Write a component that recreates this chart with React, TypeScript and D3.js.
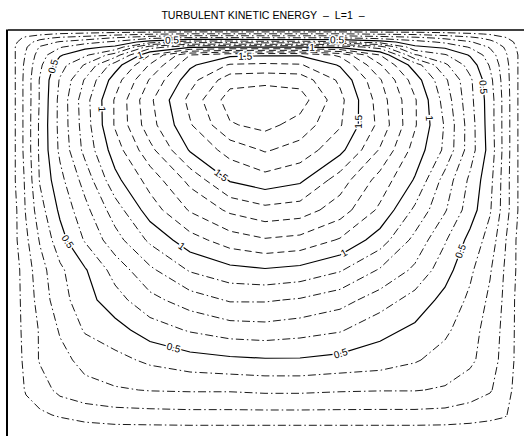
import React from 'react';
import * as d3 from 'd3';

const W = 524;
const H = 436;
const TITLE = 'TURBULENT KINETIC ENERGY\u00A0\u00A0\u2013\u00A0\u00A0L=1\u00A0\u00A0\u2013';

// grid node positions (fraction of cavity width / height)
const gridX = [0, 0.0154, 0.0347, 0.0617, 0.1002, 0.1484, 0.2062, 0.2736, 0.3507, 0.4277, 0.4952,
  0.5626, 0.6397, 0.7168, 0.7842, 0.842, 0.8902, 0.9287, 0.9576, 0.9807, 1];
const gridY = [0, 0.0098, 0.0195, 0.0293, 0.0415, 0.061, 0.0854, 0.122, 0.1707, 0.2317, 0.2927,
  0.3659, 0.439, 0.5122, 0.5854, 0.6585, 0.7317, 0.8049, 0.878, 0.939, 1];

// turbulent kinetic energy at the grid nodes (rows from the lid downward)
const kGrid = [
  [0, 0, 0, 0, 0, 0, 0, 0, 0, 0, 0, 0, 0, 0, 0, 0, 0, 0, 0, 0, 0],
  [0, .04, .06, .08, .11, .13, .16, .19, .21, .21, .21, .21, .21, .19, .18, .15, .12, .09, .06, .03, 0],
  [0, .07, .12, .17, .22, .25, .31, .38, .42, .42, .41, .41, .41, .37, .33, .28, .23, .17, .11, .06, 0],
  [0, .09, .16, .24, .31, .36, .42, .55, .66, .66, .64, .65, .62, .55, .44, .38, .31, .23, .15, .08, 0],
  [0, .11, .19, .31, .39, .47, .52, .85, .98, .99, .99, .99, .97, .85, .52, .48, .39, .29, .19, .09, 0],
  [0, .11, .21, .35, .49, .58, .75, 1.1, 1.4, 1.48, 1.49, 1.49, 1.38, 1.1, .71, .61, .49, .35, .22, .11, 0],
  [0, .11, .23, .38, .56, .71, .95, 1.21, 1.48, 1.61, 1.62, 1.61, 1.49, 1.21, .95, .72, .56, .39, .24, .11, 0],
  [0, .11, .24, .41, .61, .81, 1.05, 1.31, 1.56, 1.76, 1.77, 1.76, 1.58, 1.31, 1.05, .82, .62, .43, .25, .11, 0],
  [0, .11, .24, .41, .63, .86, 1.11, 1.38, 1.63, 1.85, 1.88, 1.85, 1.63, 1.35, 1.11, .86, .63, .45, .26, .11, 0],
  [0, .11, .24, .42, .63, .85, 1.11, 1.36, 1.59, 1.79, 1.83, 1.76, 1.61, 1.37, 1.11, .89, .65, .45, .26, .11, 0],
  [0, .11, .24, .42, .62, .83, 1.05, 1.27, 1.51, 1.64, 1.71, 1.66, 1.53, 1.29, 1.06, .88, .65, .46, .26, .11, 0],
  [0, .11, .22, .41, .57, .74, .97, 1.14, 1.33, 1.51, 1.56, 1.52, 1.35, 1.16, .99, .76, .58, .43, .25, .11, 0],
  [0, .09, .21, .36, .52, .67, .85, 1.05, 1.21, 1.32, 1.37, 1.35, 1.25, 1.08, .88, .71, .55, .41, .25, .11, 0],
  [0, .09, .18, .31, .46, .61, .76, .92, 1.06, 1.15, 1.19, 1.17, 1.09, .95, .77, .61, .47, .36, .21, .09, 0],
  [0, .07, .15, .26, .38, .49, .64, .78, .91, .97, .99, .97, .91, .79, .68, .54, .42, .31, .19, .09, 0],
  [0, .07, .14, .24, .36, .46, .56, .67, .75, .81, .81, .79, .74, .65, .56, .47, .38, .28, .18, .08, 0],
  [0, .07, .13, .21, .31, .41, .46, .55, .61, .65, .66, .64, .61, .53, .48, .42, .34, .26, .17, .08, 0],
  [0, .07, .12, .21, .27, .33, .37, .42, .46, .48, .49, .49, .47, .45, .41, .36, .32, .25, .16, .08, 0],
  [0, .05, .11, .15, .23, .27, .29, .305, .31, .31, .32, .32, .31, .305, .305, .29, .25, .21, .14, .07, 0],
  [0, .04, .06, .085, .11, .14, .16, .165, .17, .17, .17, .17, .17, .17, .17, .165, .15, .13, .11, .05, 0],
  [0, 0, 0, 0, 0, 0, 0, 0, 0, 0, 0, 0, 0, 0, 0, 0, 0, 0, 0, 0, 0],
];

const levels = [0.1, 0.2, 0.3, 0.4, 0.5, 0.6, 0.7, 0.8, 0.9, 1.0, 1.1, 1.2, 1.3, 1.4, 1.5, 1.6, 1.7, 1.8];
const solidLevels = [0.5, 1.0, 1.5];

// contour labels: level and approximate position (fractions of the cavity)
const labelLevel = [0.5, 0.5, 0.5, 0.5, 0.5, 0.5, 0.5, 0.5, 1, 1, 1, 1, 1, 1, 1.5, 1.5, 1.5];
const labelText = ['0.5', '0.5', '0.5', '0.5', '0.5', '0.5', '0.5', '0.5', '1', '1', '1', '1', '1', '1', '1.5', '1.5', '1.5'];
const labelX = [0.316, 0.634, 0.091, 0.11, 0.318, 0.64, 0.875, 0.919, 0.254, 0.586, 0.177, 0.335, 0.645, 0.817, 0.457, 0.408, 0.684];
const labelY = [0.024, 0.024, 0.09, 0.52, 0.78, 0.785, 0.541, 0.139, 0.0585, 0.044, 0.193, 0.527, 0.539, 0.215, 0.061, 0.359, 0.224];

const FONT = "'Liberation Sans', Arial, Helvetica, sans-serif";

export default function App() {
  const n = gridX.length;
  const m = gridY.length;
  const xScale = d3.scaleLinear().domain([0, 1]).range([8, 527]);
  const yScale = d3.scaleLinear().domain([0, 1]).range([30, 440]);
  const ix = d3.scaleLinear().domain(d3.range(n)).range(gridX);
  const iy = d3.scaleLinear().domain(d3.range(m)).range(gridY);
  const values = kGrid.flat();
  const cs = d3.contours().size([n, m]).thresholds(levels)(values);
  const toPx = (p: number[]) => [xScale(ix(p[0] - 0.5)), yScale(iy(p[1] - 0.5))];
  const sets = cs.map((c) => ({
    value: c.value,
    rings: c.coordinates.flatMap((poly) => poly.map((r) => r.map(toPx))),
  }));

  const isSolid = (v: number) => solidLevels.some((s) => Math.abs(s - v) < 1e-6);
  const styleFor = (v: number) => {
    if (isSolid(v)) return { dash: undefined, w: 1.2 };
    if (v < 1) return { dash: '8,3,1.5,3', w: 0.9 };
    return { dash: '7,4', w: 0.9 };
  };

  const labels = labelLevel.map((lv, i) => {
    const ax = xScale(labelX[i]);
    const ay = yScale(labelY[i]);
    const set = sets.find((s) => Math.abs(s.value - lv) < 1e-6);
    let best = { d: Infinity, x: ax, y: ay, a: 0 };
    if (set) {
      for (const ring of set.rings) {
        for (let k = 0; k < ring.length - 1; k++) {
          const [x0, y0] = ring[k];
          const [x1, y1] = ring[k + 1];
          const dx = x1 - x0, dy = y1 - y0;
          const L2 = dx * dx + dy * dy;
          if (L2 === 0) continue;
          let t = ((ax - x0) * dx + (ay - y0) * dy) / L2;
          t = Math.max(0, Math.min(1, t));
          const px = x0 + t * dx, py = y0 + t * dy;
          const d = (px - ax) ** 2 + (py - ay) ** 2;
          if (d < best.d) {
            let a = (Math.atan2(dy, dx) * 180) / Math.PI;
            if (a > 90) a -= 180;
            if (a <= -90) a += 180;
            best = { d, x: px, y: py, a };
          }
        }
      }
    }
    return { ...best, text: labelText[i] };
  });

  const line = d3.line();

  return (
    <svg width={W} height={H} style={{ position: 'absolute', left: 0, top: 0, background: '#fff' }}>
      <rect x={0} y={0} width={W} height={H} fill="#fff" />
      <text x={263} y={19} textAnchor="middle" fontFamily={FONT} fontSize={10.6}>
        {TITLE}
      </text>
      <g fill="none" stroke="#000">
        {sets.map((s) =>
          s.rings.map((r, j) => {
            const st = styleFor(s.value);
            return (
              <path
                key={`${s.value}-${j}`}
                d={(line(r as [number, number][]) || '') + 'Z'}
                strokeWidth={st.w}
                strokeDasharray={st.dash}
              />
            );
          })
        )}
      </g>
      <g fontFamily={FONT} fontSize={10}>
        {labels.map((l, i) => (
          <text
            key={i}
            x={0}
            y={0}
            transform={`translate(${l.x},${l.y}) rotate(${l.a})`}
            textAnchor="middle"
            dominantBaseline="central"
            stroke="#fff"
            strokeWidth={3}
            paintOrder="stroke"
            fill="#000"
          >
            {l.text}
          </text>
        ))}
      </g>
      <line x1={8} x2={W} y1={30} y2={30} stroke="#000" strokeWidth={1.3} />
      <line x1={7} x2={7} y1={29.4} y2={H} stroke="#000" strokeWidth={2} />
    </svg>
  );
}
